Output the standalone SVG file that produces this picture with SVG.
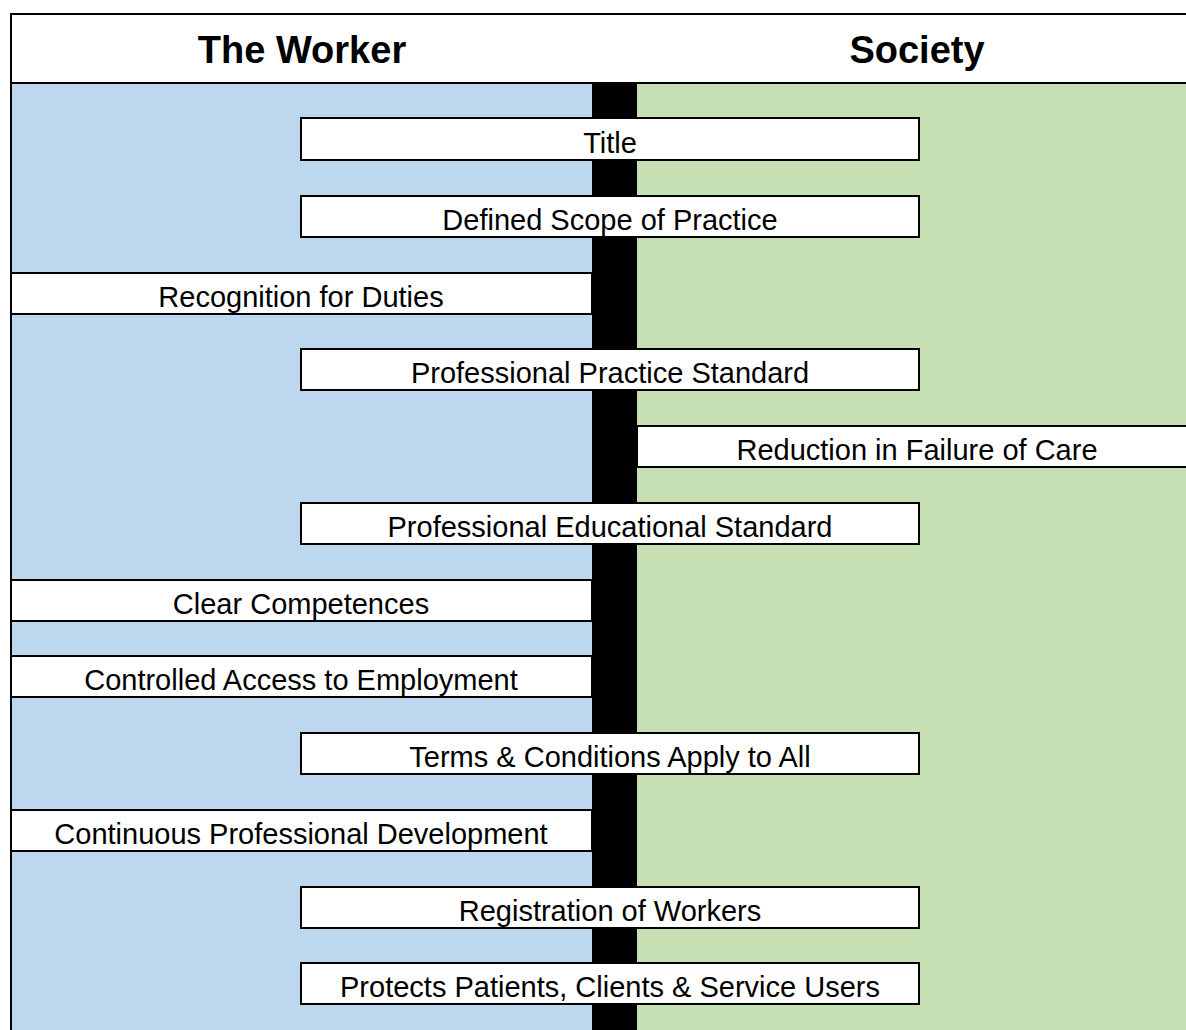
<svg xmlns="http://www.w3.org/2000/svg" width="1186" height="1030" viewBox="0 0 1186 1030">
<style>
.box{fill:#fff;stroke:#000;stroke-width:2}
.t{font-family:"Liberation Sans",Arial,sans-serif;font-size:29px;fill:#000;text-anchor:middle}
.h{font-family:"Liberation Sans",Arial,sans-serif;font-size:38px;font-weight:bold;fill:#000;text-anchor:middle}
</style>
<rect x="0" y="0" width="1186" height="1030" fill="#fff"/>
<g id="background">
<rect x="11" y="83" width="581" height="947" fill="#bdd7ee"/>
<rect x="637" y="83" width="549" height="947" fill="#c6e0b4"/>
<rect x="592" y="83" width="45" height="947" fill="#000"/>
<line x1="11" y1="14" x2="1186" y2="14" stroke="#000" stroke-width="2"/>
<line x1="11" y1="83" x2="1186" y2="83" stroke="#000" stroke-width="2"/>
<line x1="11" y1="13" x2="11" y2="1030" stroke="#000" stroke-width="2"/>
</g>
<g id="header-worker"><text class="h" x="302" y="63">The Worker</text></g>
<g id="header-society"><text class="h" x="917" y="63">Society</text></g>
<g id="connectors"></g>
<g id="n1"><rect class="box" x="301" y="118" width="618" height="42"/><text class="t" x="610" y="153">Title</text></g>
<g id="n2"><rect class="box" x="301" y="196" width="618" height="41"/><text class="t" x="610" y="230">Defined Scope of Practice</text></g>
<g id="n3"><rect class="box" x="11" y="273" width="581" height="41"/><text class="t" x="301" y="307">Recognition for Duties</text></g>
<g id="n4"><rect class="box" x="301" y="349" width="618" height="41"/><text class="t" x="610" y="383">Professional Practice Standard</text></g>
<g id="n5"><rect class="box" x="637" y="426" width="551" height="41"/><text class="t" x="917" y="460">Reduction in Failure of Care</text></g>
<g id="n6"><rect class="box" x="301" y="503" width="618" height="41"/><text class="t" x="610" y="537">Professional Educational Standard</text></g>
<g id="n7"><rect class="box" x="11" y="580" width="581" height="41"/><text class="t" x="301" y="614">Clear Competences</text></g>
<g id="n8"><rect class="box" x="11" y="656" width="581" height="41"/><text class="t" x="301" y="690">Controlled Access to Employment</text></g>
<g id="n9"><rect class="box" x="301" y="733" width="618" height="41"/><text class="t" x="610" y="767">Terms &amp; Conditions Apply to All</text></g>
<g id="n10"><rect class="box" x="11" y="810" width="581" height="41"/><text class="t" x="301" y="844">Continuous Professional Development</text></g>
<g id="n11"><rect class="box" x="301" y="887" width="618" height="41"/><text class="t" x="610" y="921">Registration of Workers</text></g>
<g id="n12"><rect class="box" x="301" y="963" width="618" height="41"/><text class="t" x="610" y="997">Protects Patients, Clients &amp; Service Users</text></g>
</svg>
